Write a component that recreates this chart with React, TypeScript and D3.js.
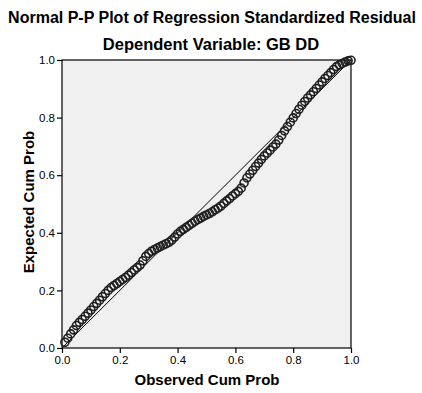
import React, { useEffect, useRef } from 'react';
import * as d3 from 'd3';

// observed cumulative probabilities (i / n)
const observed: number[] = d3.range(1, 101).map((i) => i / 100);

// expected cumulative probabilities
const expected: number[] = [
  0.020, 0.034, 0.049, 0.063, 0.078, 0.089, 0.099, 0.110, 0.121, 0.132,
  0.144, 0.155, 0.166, 0.178, 0.189, 0.200, 0.210, 0.217, 0.224, 0.231,
  0.238, 0.245, 0.253, 0.262, 0.271, 0.279, 0.288, 0.303, 0.318, 0.328,
  0.336, 0.342, 0.347, 0.352, 0.357, 0.362, 0.367, 0.375, 0.385, 0.396,
  0.405, 0.412, 0.419, 0.426, 0.433, 0.440, 0.446, 0.451, 0.457, 0.462,
  0.467, 0.473, 0.480, 0.486, 0.493, 0.502, 0.511, 0.519, 0.528, 0.536,
  0.544, 0.555, 0.573, 0.591, 0.604, 0.617, 0.630, 0.642, 0.655, 0.667,
  0.677, 0.687, 0.698, 0.708, 0.722, 0.738, 0.754, 0.769, 0.784, 0.799,
  0.814, 0.829, 0.843, 0.856, 0.868, 0.879, 0.890, 0.901, 0.913, 0.924,
  0.936, 0.946, 0.956, 0.967, 0.977, 0.983, 0.988, 0.993, 0.997, 0.999,
];

const ticks: number[] = [0, 0.2, 0.4, 0.6, 0.8, 1.0];

const title = 'Normal P-P Plot of Regression Standardized Residual';
const subtitle = 'Dependent Variable: GB DD';
const xTitle = 'Observed Cum Prob';
const yTitle = 'Expected Cum Prob';

export default function App() {
  const svgRef = useRef<SVGSVGElement>(null);
  const width = 422;
  const height = 393;

  useEffect(() => {
    const svg = d3.select(svgRef.current);
    svg.selectAll('*').remove();

    const left = 62, right = 351, top = 60, bottom = 348;
    const x = d3.scaleLinear().domain([0, 1]).range([left, right]);
    const y = d3.scaleLinear().domain([0, 1]).range([bottom, top]);
    const font = '"Liberation Sans", Arial, sans-serif';

    svg.append('rect')
      .attr('width', width).attr('height', height).attr('fill', '#fff');

    svg.append('rect')
      .attr('x', left).attr('y', top)
      .attr('width', right - left).attr('height', bottom - top)
      .attr('fill', '#f0f0f0')
      .attr('stroke', '#000').attr('stroke-width', 1.2);

    // reference line
    svg.append('line')
      .attr('x1', x(0)).attr('y1', y(0))
      .attr('x2', x(1)).attr('y2', y(1))
      .attr('stroke', '#000').attr('stroke-width', 1);

    const data = observed.map((o, i) => ({ o, e: expected[i] }));
    svg.append('g')
      .selectAll('circle')
      .data(data)
      .enter()
      .append('circle')
      .attr('cx', (d) => x(d.o))
      .attr('cy', (d) => y(d.e))
      .attr('r', 4)
      .attr('fill', 'none')
      .attr('stroke', '#1e1e1e')
      .attr('stroke-width', 1.6);

    const xAxis = svg.append('g')
      .attr('transform', `translate(0,${bottom})`)
      .call(d3.axisBottom(x).tickValues(ticks).tickFormat(d3.format('.1f')).tickSize(5).tickPadding(3));
    const yAxis = svg.append('g')
      .attr('transform', `translate(${left},0)`)
      .call(d3.axisLeft(y).tickValues(ticks).tickFormat(d3.format('.1f')).tickSize(5).tickPadding(2));

    [xAxis, yAxis].forEach((g) => {
      g.select('.domain').remove();
      g.selectAll('line').attr('stroke', '#000').attr('stroke-width', 1.2);
      g.selectAll('text')
        .attr('font-family', font)
        .attr('font-size', 11.5)
        .attr('fill', '#000');
    });

    svg.append('text')
      .attr('x', 212).attr('y', 23)
      .attr('text-anchor', 'middle')
      .attr('font-family', font).attr('font-weight', 'bold').attr('font-size', 16)
      .text(title);
    svg.append('text')
      .attr('x', 211).attr('y', 50)
      .attr('text-anchor', 'middle')
      .attr('font-family', font).attr('font-weight', 'bold').attr('font-size', 16.5)
      .text(subtitle);

    svg.append('text')
      .attr('x', 207).attr('y', 385)
      .attr('text-anchor', 'middle')
      .attr('font-family', font).attr('font-weight', 'bold').attr('font-size', 15)
      .text(xTitle);
    svg.append('text')
      .attr('transform', `translate(34,202) rotate(-90)`)
      .attr('text-anchor', 'middle')
      .attr('font-family', font).attr('font-weight', 'bold').attr('font-size', 15)
      .text(yTitle);
  }, []);

  return (
    <svg
      ref={svgRef}
      width={width}
      height={height}
      style={{ position: 'absolute', left: 0, top: 0 }}
    />
  );
}
